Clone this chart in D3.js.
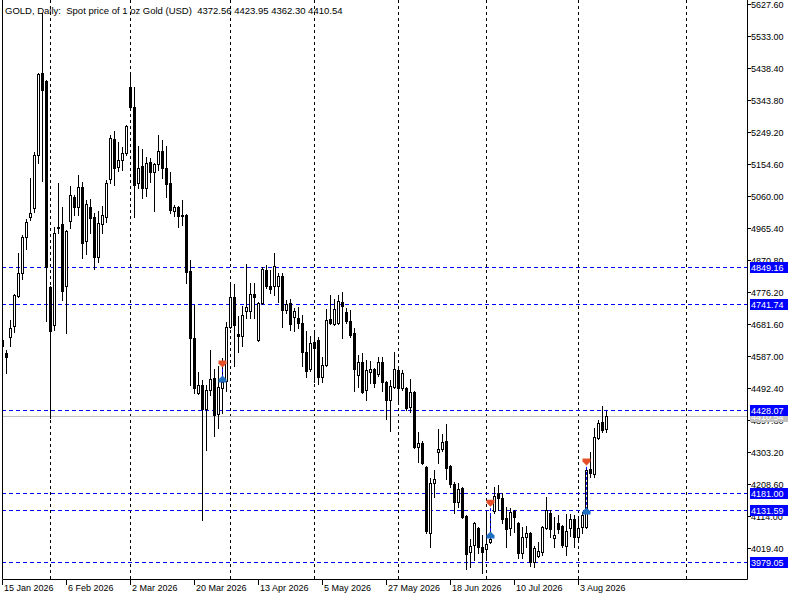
<!DOCTYPE html>
<html>
<head>
<meta charset="utf-8">
<script src="https://cdn.jsdelivr.net/npm/d3@7"></script>
<style>
  body { margin: 0; background: #fff; }
  svg { display: block; font-family: "Liberation Sans", Arial, sans-serif; }
</style>
</head>
<body>
<svg id="chart" width="800" height="600"></svg>
<script>
// daily bars, 15 Jan 2026 .. 10 Aug 2026
const opens = [
  4634, 4596, 4643, 4676, 4764, 4832, 4939, 4998, 5025, 5181,
  5424, 5400, 4791, 4679, 4966, 4977, 4794, 4986, 5057, 5028,
  5087, 4927, 5028, 4998, 4880, 4977, 4998, 5110, 5229, 5146,
  5166, 5187, 5382, 5323, 5098, 5149, 5084, 5161, 5131, 5155,
  5193, 5143, 5098, 5016, 5028, 5002, 5004, 4838, 4640, 4478,
  4501, 4430, 4487, 4522, 4416, 4493, 4513, 4673, 4762, 4652,
  4646, 4720, 4720, 4770, 4634, 4744, 4841, 4794, 4794, 4794,
  4824, 4723, 4744, 4702, 4699, 4685, 4599, 4549, 4628, 4634,
  4525, 4561, 4696, 4682, 4685, 4747, 4717, 4691, 4655, 4531,
  4569, 4487, 4540, 4549, 4534, 4569, 4510, 4457, 4495, 4546,
  4493, 4493, 4436, 4481, 4318, 4330, 4259, 4064, 4212, 4303,
  4312, 4336, 4262, 4209, 4156, 4197, 4114, 4008, 4028, 4079,
  4023, 4017, 4037, 4129, 4182, 4167, 4108, 4079, 4129, 4093,
  4005, 4052, 4064, 3978, 3996, 4008, 4079, 4123, 4049, 4093,
  4085, 4025, 4079, 4105, 4052, 4082, 4082, 4253, 4238, 4345,
  4392, 4372.56
];
const highs = [
  4643, 4605, 4694, 4770, 4892, 4945, 4992, 5113, 5190, 5424,
  5601, 5402, 4793, 4968, 5098, 5028, 4959, 5090, 5063, 5122,
  5101, 5048, 5051, 5010, 5016, 5031, 5107, 5240, 5252, 5220,
  5205, 5270, 5421, 5382, 5208, 5199, 5175, 5172, 5157, 5240,
  5226, 5208, 5131, 5033, 5030, 5048, 5006, 4871, 4738, 4540,
  4516, 4501, 4605, 4549, 4558, 4581, 4688, 4800, 4800, 4705,
  4735, 4859, 4803, 4803, 4746, 4850, 4856, 4841, 4892, 4832,
  4832, 4753, 4756, 4729, 4732, 4708, 4661, 4646, 4655, 4643,
  4584, 4726, 4767, 4756, 4767, 4776, 4729, 4723, 4670, 4590,
  4596, 4575, 4572, 4552, 4584, 4584, 4512, 4516, 4599, 4548,
  4546, 4495, 4519, 4483, 4362, 4336, 4262, 4226, 4250, 4371,
  4357, 4386, 4265, 4215, 4212, 4200, 4116, 4046, 4096, 4082,
  4058, 4123, 4123, 4200, 4206, 4182, 4141, 4138, 4132, 4096,
  4082, 4085, 4066, 4025, 4037, 4084, 4170, 4132, 4111, 4117,
  4087, 4120, 4120, 4117, 4108, 4126, 4259, 4303, 4374, 4398,
  4439, 4423.95
];
const lows = [
  4605, 4537, 4617, 4658, 4762, 4815, 4903, 4989, 5013, 5158,
  5104, 4690, 4404, 4664, 4951, 4753, 4655, 4965, 5004, 5004,
  4877, 4889, 4951, 4844, 4865, 4951, 4983, 5098, 5093, 5134,
  5137, 5181, 5314, 4998, 5084, 5054, 5060, 5101, 5016, 5137,
  5113, 5057, 5010, 5001, 4968, 4974, 4803, 4501, 4478, 4475,
  4102, 4309, 4472, 4351, 4374, 4419, 4484, 4670, 4558, 4599,
  4617, 4699, 4699, 4699, 4631, 4741, 4788, 4773, 4767, 4747,
  4673, 4714, 4664, 4661, 4670, 4558, 4525, 4543, 4510, 4504,
  4510, 4558, 4682, 4679, 4682, 4640, 4685, 4643, 4484, 4495,
  4478, 4457, 4507, 4495, 4528, 4484, 4401, 4365, 4492, 4448,
  4487, 4427, 4422, 4315, 4274, 4268, 4064, 4023, 4170, 4271,
  4306, 4224, 4200, 4123, 4141, 4108, 3957, 3963, 3984, 4005,
  3946, 3984, 4034, 4123, 4132, 4093, 4023, 4058, 4067, 3990,
  3990, 4023, 3966, 3963, 3993, 3999, 4076, 4052, 4023, 4064,
  4023, 3999, 4055, 4023, 4046, 4064, 4079, 4229, 4229, 4342,
  4362, 4362.30
];
const closes = [
  4617, 4584, 4670, 4767, 4832, 4939, 4983, 5010, 5181, 5421,
  5373, 4850, 4661, 4951, 4969, 4779, 4957, 5063, 5028, 5087,
  4921, 5036, 4995, 4880, 4980, 5004, 5098, 5232, 5143, 5166,
  5187, 5267, 5323, 5093, 5143, 5084, 5158, 5131, 5155, 5193,
  5143, 5096, 5019, 5028, 5001, 5004, 4835, 4640, 4493, 4501,
  4430, 4487, 4519, 4413, 4495, 4510, 4673, 4762, 4679, 4646,
  4708, 4732, 4770, 4762, 4744, 4844, 4794, 4785, 4853, 4824,
  4723, 4741, 4682, 4720, 4685, 4599, 4543, 4626, 4611, 4525,
  4561, 4694, 4685, 4726, 4750, 4735, 4691, 4649, 4549, 4569,
  4481, 4546, 4549, 4507, 4569, 4510, 4457, 4498, 4549, 4493,
  4537, 4433, 4481, 4318, 4330, 4271, 4070, 4212, 4224, 4312,
  4333, 4256, 4209, 4156, 4194, 4111, 4002, 4025, 4093, 4023,
  4008, 4031, 4046, 4173, 4167, 4105, 4076, 4126, 4111, 4005,
  4052, 4064, 3978, 4020, 4011, 4082, 4132, 4076, 4058, 4076,
  4028, 4070, 4105, 4052, 4079, 4117, 4250, 4241, 4348, 4389,
  4368, 4410.54
];

// time axis: label every 16 bars, month separators
const dateLabels = ['15 Jan 2026', '6 Feb 2026', '2 Mar 2026', '20 Mar 2026', '13 Apr 2026',
                    '5 May 2026', '27 May 2026', '18 Jun 2026', '10 Jul 2026', '3 Aug 2026'];
const dateLabelBars = [0, 16, 32, 48, 64, 80, 96, 112, 128, 144];
const monthStartBars = [12, 32, 57, 78, 99, 121, 144, 171];

// price axis
const priceTicks = [5627.60, 5533.00, 5438.40, 5343.80, 5249.20, 5154.60, 5060.00, 4965.40, 4870.80,
                    4776.20, 4681.60, 4587.00, 4492.40, 4397.80, 4303.20, 4208.60, 4114.00, 4019.40];

// horizontal levels and current bid
const levelPrices = [4849.16, 4741.74, 4428.07, 4181.00, 4131.59, 3979.05];
const bidPrice = 4410.54;

// trades: entry (blue) and exit (red) markers
const tradeBars = [55, 122, 146];
const tradeEntry = [4519, 4058, 4129];
const tradeExit = [4563, 4152, 4274];

const headerText = 'GOLD, Daily:  Spot price of 1 oz Gold (USD)  4372.56 4423.95 4362.30 4410.54';

const plotLeft = 2;
const plotRight = 747;
const plotBottom = 579;
const fontSize = 9;

const svg = d3.select('#chart');
svg.append('rect').attr('width', 800).attr('height', 600).attr('fill', '#fff');

const x = d3.scaleLinear().domain([0, 151]).range([2, 606]);
const y = d3.scaleLinear().domain([4019.4, 5627.6]).range([548, 4]);
const px = v => Math.round(v);

svg.append('defs').append('clipPath').attr('id', 'plotClip')
  .append('rect')
  .attr('x', plotLeft + 1).attr('y', 0)
  .attr('width', plotRight - plotLeft - 1).attr('height', plotBottom);

const plot = svg.append('g').attr('clip-path', 'url(#plotClip)');

// grid
plot.selectAll('.vgrid')
  .data(monthStartBars)
  .join('line')
  .attr('class', 'vgrid')
  .attr('x1', d => px(x(d)) + 0.5).attr('x2', d => px(x(d)) + 0.5)
  .attr('y1', 0).attr('y2', plotBottom)
  .attr('stroke', '#000')
  .attr('stroke-dasharray', '3,3');

// levels
plot.selectAll('.level')
  .data(levelPrices)
  .join('line')
  .attr('class', 'level')
  .attr('x1', plotLeft).attr('x2', plotRight)
  .attr('y1', d => px(y(d)) + 0.5).attr('y2', d => px(y(d)) + 0.5)
  .attr('stroke', '#0000ff')
  .attr('stroke-dasharray', '4,3');

plot.append('line')
  .attr('x1', plotLeft).attr('x2', plotRight)
  .attr('y1', px(y(bidPrice)) + 0.5).attr('y2', px(y(bidPrice)) + 0.5)
  .attr('stroke', '#c0c0c0');

// candles
const bars = opens.map((o, i) => ({ i, o, h: highs[i], l: lows[i], c: closes[i] }));

plot.selectAll('.wick')
  .data(bars)
  .join('line')
  .attr('class', 'wick')
  .attr('x1', d => px(x(d.i)) + 0.5).attr('x2', d => px(x(d.i)) + 0.5)
  .attr('y1', d => px(y(d.h))).attr('y2', d => px(y(d.l)) + 1)
  .attr('stroke', '#000');

plot.selectAll('.body')
  .data(bars)
  .join('rect')
  .attr('class', 'body')
  .attr('x', d => px(x(d.i)) - 0.5)
  .attr('width', 2)
  .attr('y', d => px(y(Math.max(d.o, d.c))) + 0.5)
  .attr('height', d => Math.max(1, px(y(Math.min(d.o, d.c))) - px(y(Math.max(d.o, d.c)))))
  .attr('fill', d => d.c >= d.o ? '#fff' : '#000')
  .attr('stroke', '#000');

// trades
const trades = tradeBars.map((b, i) => ({ b, entry: tradeEntry[i], exit: tradeExit[i] }));

plot.selectAll('.tradeLine')
  .data(trades)
  .join('line')
  .attr('class', 'tradeLine')
  .attr('x1', d => px(x(d.b)) + 0.5).attr('x2', d => px(x(d.b)) + 0.5)
  .attr('y1', d => y(d.exit)).attr('y2', d => y(d.entry))
  .attr('stroke', '#0000ff')
  .attr('stroke-dasharray', '3,2');

const arrowDown = 'M-4,-3.5 H4 V-0.5 L0,3.5 L-4,-0.5 Z';
const arrowUp = 'M-4,3.5 H4 V0.5 L0,-3.5 L-4,0.5 Z';

plot.selectAll('.exitMark')
  .data(trades)
  .join('path')
  .attr('class', 'exitMark')
  .attr('d', arrowDown)
  .attr('transform', d => `translate(${px(x(d.b)) + 0.5}, ${y(d.exit)})`)
  .attr('fill', '#e4502a');

plot.selectAll('.entryMark')
  .data(trades)
  .join('path')
  .attr('class', 'entryMark')
  .attr('d', arrowUp)
  .attr('transform', d => `translate(${px(x(d.b)) + 0.5}, ${y(d.entry)})`)
  .attr('fill', '#1f6fc0');

// header
svg.append('text')
  .attr('x', 5).attr('y', 14)
  .attr('font-size', 9.5)
  .attr('fill', '#000')
  .style('white-space', 'pre')
  .text(headerText);

// frame
svg.append('path')
  .attr('d', `M${plotLeft + 0.5},0 V${plotBottom + 0.5} H${plotRight + 0.5} V0`)
  .attr('fill', 'none')
  .attr('stroke', '#000');

// price axis
const yAxis = svg.append('g');
yAxis.selectAll('.ytick')
  .data(priceTicks)
  .join('line')
  .attr('class', 'ytick')
  .attr('x1', plotRight + 1).attr('x2', plotRight + 4)
  .attr('y1', d => px(y(d)) + 0.5).attr('y2', d => px(y(d)) + 0.5)
  .attr('stroke', '#000');

yAxis.selectAll('.ylabel')
  .data(priceTicks)
  .join('text')
  .attr('class', 'ylabel')
  .attr('x', plotRight + 4)
  .attr('y', d => px(y(d)) + 3.5)
  .attr('font-size', fontSize)
  .attr('fill', '#000')
  .text(d => d.toFixed(2));

// bid label (grey) and level labels (blue)
const bidG = svg.append('g');
bidG.append('rect')
  .attr('x', plotRight + 3).attr('width', 38)
  .attr('y', px(y(bidPrice)) - 5).attr('height', 11)
  .attr('fill', '#c0c0c0');
bidG.append('text')
  .attr('x', plotRight + 4).attr('y', px(y(bidPrice)) + 4)
  .attr('font-size', fontSize).attr('fill', '#fff')
  .text(bidPrice.toFixed(2));

const levelG = svg.append('g');
levelG.selectAll('rect')
  .data(levelPrices)
  .join('rect')
  .attr('x', plotRight + 3).attr('width', 38)
  .attr('y', d => px(y(d)) - 5).attr('height', 11)
  .attr('fill', '#0000ff');
levelG.selectAll('text')
  .data(levelPrices)
  .join('text')
  .attr('x', plotRight + 4)
  .attr('y', d => px(y(d)) + 4)
  .attr('font-size', fontSize).attr('fill', '#fff')
  .text(d => d.toFixed(2));

// time axis
const xAxis = svg.append('g');
xAxis.selectAll('.xtick')
  .data(dateLabelBars)
  .join('line')
  .attr('class', 'xtick')
  .attr('x1', d => px(x(d)) + 0.5).attr('x2', d => px(x(d)) + 0.5)
  .attr('y1', plotBottom + 1).attr('y2', plotBottom + 6)
  .attr('stroke', '#000');

xAxis.selectAll('.xlabel')
  .data(dateLabelBars)
  .join('text')
  .attr('class', 'xlabel')
  .attr('x', d => px(x(d)) + 2)
  .attr('y', plotBottom + 12)
  .attr('font-size', fontSize)
  .attr('fill', '#000')
  .text((d, i) => dateLabels[i]);
</script>
</body>
</html>
